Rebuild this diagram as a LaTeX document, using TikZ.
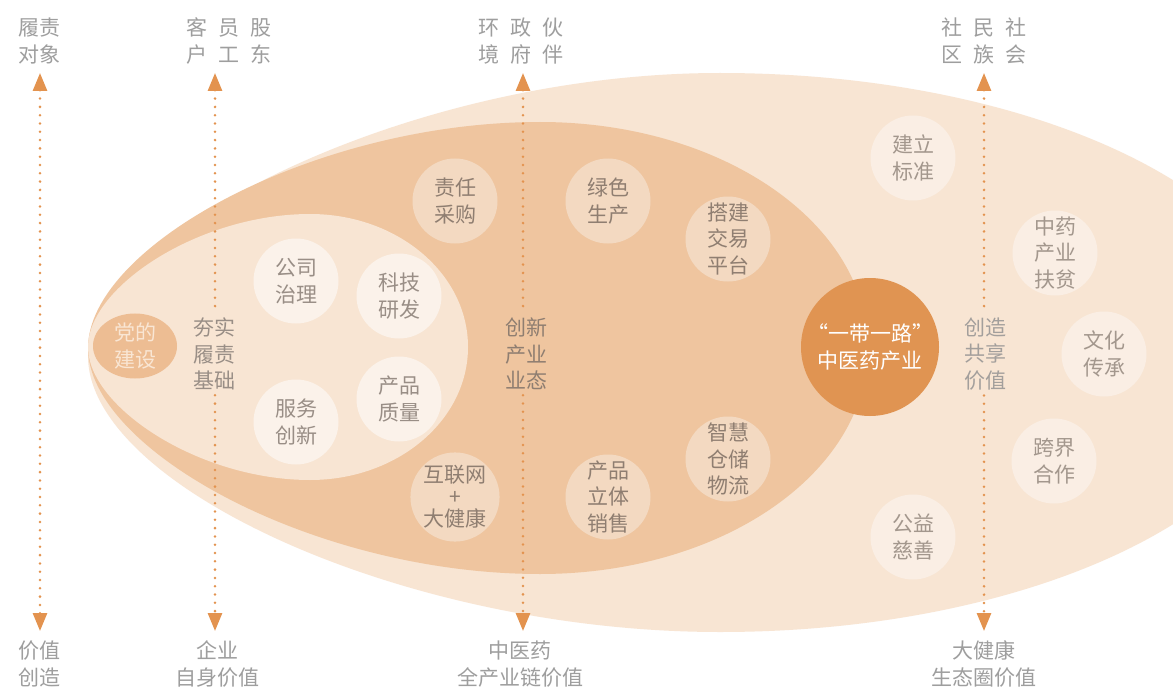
\documentclass[tikz,border=0pt]{standalone}
\usepackage{fontspec}
\setmainfont{Noto Sans CJK SC}
\usetikzlibrary{arrows.meta,shapes.geometric}
\definecolor{outerc}{HTML}{F8E5D3}
\definecolor{midc}{HTML}{EFC59F}
\definecolor{innerc}{HTML}{F8E5D3}
\definecolor{wcirc}{HTML}{FBF2EA}
\definecolor{mcirc}{HTML}{F3D9C1}
\definecolor{ocirc}{HTML}{FAEEE4}
\definecolor{partyc}{HTML}{EDBD93}
\definecolor{partyt}{HTML}{F9E6D4}
\definecolor{corec}{HTML}{E09452}
\definecolor{axisc}{HTML}{E3934F}
\definecolor{labc}{HTML}{9E9E9E}
\definecolor{txtin}{HTML}{998E86}
\definecolor{txtmid}{HTML}{8F7E71}
\definecolor{txtout}{HTML}{A3978D}
\definecolor{txtgray}{HTML}{A39F9C}
\begin{document}
\begin{tikzpicture}[x=1pt,y=-1pt,
  every node/.style={font=\fontsize{21}{26.5}\selectfont, align=center},
  lab/.style={text=labc, inner sep=0pt},
  midlab/.style={inner sep=5pt},
  bub/.style={circle, minimum size=85pt, inner sep=0pt},
  wbub/.style={bub, fill=wcirc, text=txtin},
  mbub/.style={bub, fill=mcirc, text=txtmid},
  obub/.style={bub, fill=ocirc, text=txtout},
  axisline/.style={draw=axisc, line width=2.8pt, line cap=round, dash pattern=on 0pt off 8.3pt},
  uptip/.style={{Triangle[width=14pt,length=18pt]}-},
  downtip/.style={-{Triangle[width=14pt,length=18pt]}},
  bothtip/.style={{Triangle[width=14pt,length=18pt]}-{Triangle[width=14pt,length=18pt]}}
]
\useasboundingbox (0,0) rectangle (1173,690);
\fill[white] (0,0) rectangle (1173,690);
\begin{scope}
\clip (0,0) rectangle (1173,690);
% outer egg
\fill[outerc] (88,356) .. controls (88,236) and (404,73) .. (720,73)
  .. controls (1037.6,73) and (1295,197.9) .. (1295,352)
  .. controls (1295,506.1) and (1037.6,632) .. (720,632)
  .. controls (404,632) and (88,486) .. cycle;
\end{scope}
% middle egg
\fill[midc] (88,348) .. controls (88,246.3) and (314,122) .. (540,122)
  .. controls (722,122) and (868,223.2) .. (868,348)
  .. controls (868,472.8) and (722,574) .. (540,574)
  .. controls (314,574) and (88,449.7) .. cycle;
% inner egg
\fill[innerc] (88,347) .. controls (88,287.1) and (199,214) .. (310,214)
  .. controls (397.3,214) and (468,273.5) .. (468,347)
  .. controls (468,420.5) and (397.3,480) .. (310,480)
  .. controls (199,480) and (88,406.9) .. cycle;

% axis end points
\coordinate (t1) at (40,73);  \coordinate (b1) at (40,631);
\coordinate (t2) at (215,73); \coordinate (b2) at (215,631);
\coordinate (t3) at (523,73); \coordinate (b3) at (523,631);
\coordinate (t4) at (984,73); \coordinate (b4) at (984,631);

% middle labels on the axes
\node[midlab, text=txtin] (m2) at (214,354) {夯实\\履责\\基础};
\node[midlab, text=txtmid] (m3) at (526,354) {创新\\产业\\业态};
\node[midlab, text=txtgray] (m4) at (985,354) {创造\\共享\\价值};

% dotted axes
\draw[axisline, bothtip] (t1) -- (b1);
\draw[axisline, uptip] (t2) -- (t2 |- m2.north);
\draw[axisline, downtip] (t2 |- m2.south) -- (b2);
\draw[axisline, uptip] (t3) -- (t3 |- m3.north);
\draw[axisline, downtip] (t3 |- m3.south) -- (b3);
\draw[axisline, uptip] (t4) -- (t4 |- m4.north);
\draw[axisline, downtip] (t4 |- m4.south) -- (b4);

% top labels
\node[lab] (h1) at (40,41) {履责\\对象};
\node[lab] (h2) at (229,41) {客\hspace{11pt}员\hspace{11pt}股\\户\hspace{11pt}工\hspace{11pt}东};
\node[lab] (h3) at (521,41) {环\hspace{11pt}政\hspace{11pt}伙\\境\hspace{11pt}府\hspace{11pt}伴};
\node[lab] (h4) at (984,41) {社\hspace{11pt}民\hspace{11pt}社\\区\hspace{11pt}族\hspace{11pt}会};

% bottom labels
\node[lab] (f1) at (40,664) {价值\\创造};
\node[lab] (f2) at (217,664) {企业\\自身价值};
\node[lab] (f3) at (520,664) {中医药\\全产业链价值};
\node[lab] (f4) at (984,664) {大健康\\生态圈价值};

% party building
\node[ellipse, fill=partyc, text=partyt, minimum width=84pt, minimum height=62pt, inner sep=0pt] (party) at (135,346) {党的\\建设};

% inner bubbles
\node[wbub] (c1) at (296,281) {公司\\治理};
\node[wbub] (c2) at (399,296) {科技\\研发};
\node[wbub] (c3) at (296,422) {服务\\创新};
\node[wbub] (c4) at (399,399) {产品\\质量};

% middle bubbles
\node[mbub] (c5) at (455,201) {责任\\采购};
\node[mbub] (c6) at (608,201) {绿色\\生产};
\node[mbub] (c7) at (728,239) {搭建\\交易\\平台};
\node[mbub, font=\fontsize{21}{22}\selectfont] (c8) at (455,497) {互联网\\+\\大健康};
\node[mbub] (c9) at (608,497) {产品\\立体\\销售};
\node[mbub] (c10) at (728,459) {智慧\\仓储\\物流};

% outer bubbles
\node[obub] (c11) at (913,158) {建立\\标准};
\node[obub] (c12) at (1055,253) {中药\\产业\\扶贫};
\node[obub] (c13) at (1104,354) {文化\\传承};
\node[obub] (c14) at (1054,461) {跨界\\合作};
\node[obub] (c15) at (913,537) {公益\\慈善};

% core
\node[circle, fill=corec, text=white, minimum size=138pt, inner sep=0pt] (core) at (870,347) {“一带一路”\\中医药产业};
\end{tikzpicture}
\end{document}
